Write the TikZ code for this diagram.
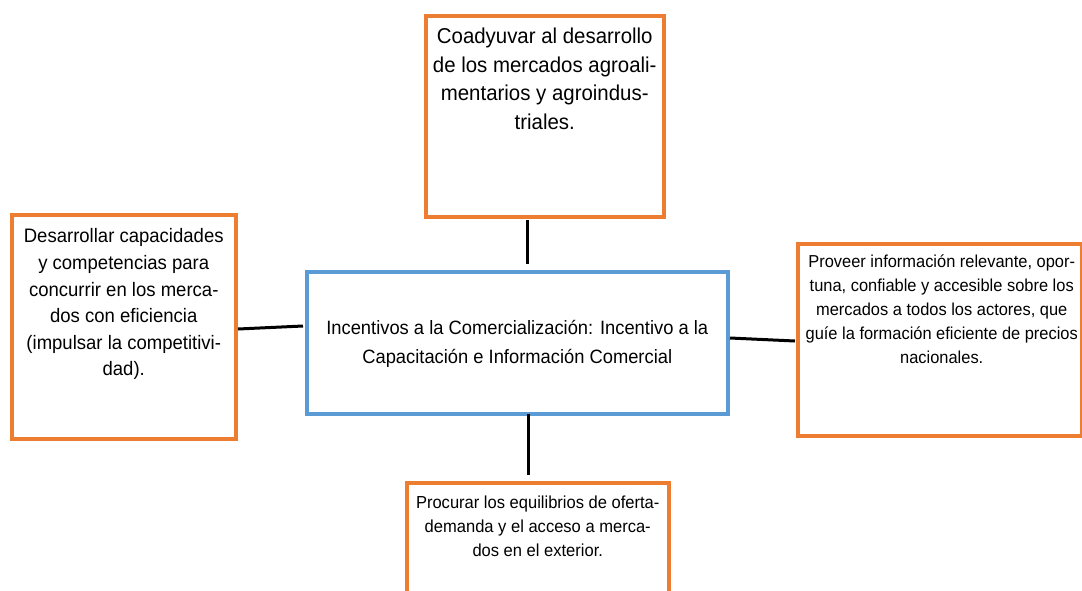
\documentclass[tikz,border=0pt]{standalone}
\usepackage{fontspec}
\setmainfont[FakeStretch=0.95]{Liberation Sans}
\definecolor{orng}{HTML}{ED7D31}
\definecolor{blu}{HTML}{5B9BD5}
\begin{document}
\begin{tikzpicture}[x=1pt,y=-1pt,
  obox/.style={draw=orng,line width=3.5pt,fill=white,inner sep=0pt,anchor=north west},
  bbox/.style={draw=blu,line width=3.5pt,fill=white,inner sep=0pt,anchor=north west},
  txt/.style={align=center,inner sep=0pt,anchor=north},
  conn/.style={draw=black,line width=3pt}]
\useasboundingbox (0,0) rectangle (1082,590);
\clip (0,0) rectangle (1082,590);
% boxes
\node[obox,minimum width=238pt,minimum height=201pt] (top) at (424,14) {};
\node[obox,minimum width=224pt,minimum height=224pt] (left) at (10,213) {};
\node[bbox,minimum width=421pt,minimum height=142pt] (ctr) at (305,270) {};
\node[obox,minimum width=284pt,minimum height=192pt] (right) at (796,242) {};
\node[obox,minimum width=262pt,minimum height=130pt] (bot) at (405,481) {};
% texts
\node[txt,font=\fontsize{21.5}{28.5}\selectfont] (ttop) at ([yshift=-14pt]top.north)
 {Coadyuvar al desarrollo\\de los mercados agroali-\\mentarios y agroindus-\\triales.};
\node[txt,font=\fontsize{19.5}{26.6}\selectfont] (tleft) at ([yshift=-15.5pt]left.north)
 {Desarrollar capacidades\\y competencias para\\concurrir en los merca-\\dos con eficiencia\\(impulsar la competitivi-\\dad).};
\node[align=center,inner sep=0pt,font=\fontsize{19.3}{29}\selectfont] (tctr) at ([yshift=-1.5pt]ctr.center)
 {Incentivos a la Comercialización: Incentivo a la\\Capacitación e Información Comercial};
\node[txt,font=\fontsize{17.3}{24}\selectfont] (tright) at ([xshift=2pt,yshift=-13pt]right.north)
 {Proveer información relevante, opor-\\tuna, confiable y accesible sobre los\\mercados a todos los actores, que\\guíe la formación eficiente de precios\\nacionales.};
\node[txt,font=\fontsize{17.4}{24.3}\selectfont] (tbot) at ([yshift=-14.5pt]bot.north)
 {Procurar los equilibrios de oferta-\\demanda y el acceso a merca-\\dos en el exterior.};
% connector endpoints
\coordinate (c1a) at (527,220); \coordinate (c1b) at (527,264);
\coordinate (c2a) at (238,329); \coordinate (c2b) at (303,326);
\coordinate (c3a) at (730,338); \coordinate (c3b) at (795,341);
\coordinate (c4a) at (528,414); \coordinate (c4b) at (528,475);
\draw[conn] (c1a) -- (c1b);
\draw[conn] (c2a) -- (c2b);
\draw[conn] (c3a) -- (c3b);
\draw[conn] (c4a) -- (c4b);
\end{tikzpicture}
\end{document}
